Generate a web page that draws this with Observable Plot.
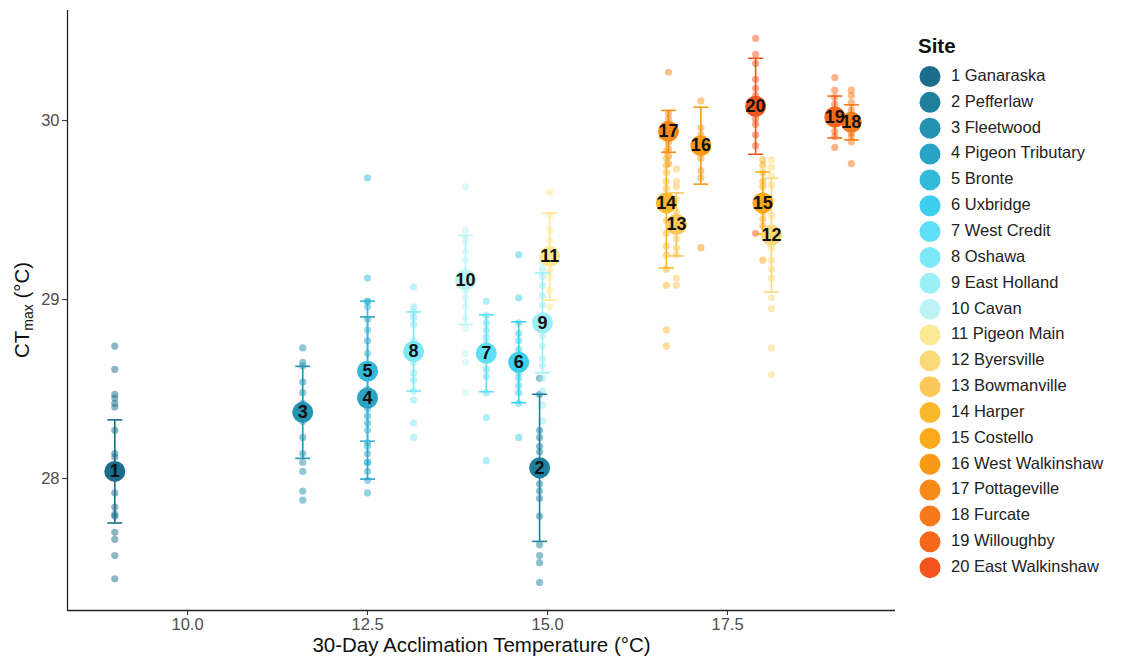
<!DOCTYPE html>
<html><head><meta charset="utf-8">
<script src="https://cdn.jsdelivr.net/npm/d3@7"></script>
<script src="https://cdn.jsdelivr.net/npm/@observablehq/plot@0.6"></script>
<style>
html,body{margin:0;padding:0;background:#fff;}
#chart{width:1121px;height:661px;overflow:hidden;}
</style></head><body><div id="chart"></div>
<script>
const siteNames = ["Ganaraska","Pefferlaw","Fleetwood","Pigeon Tributary","Bronte","Uxbridge","West Credit","Oshawa","East Holland","Cavan","Pigeon Main","Byersville","Bowmanville","Harper","Costello","West Walkinshaw","Pottageville","Furcate","Willoughby","East Walkinshaw"];
const siteTemp = [8.99,14.89,11.60,12.50,12.50,14.60,14.15,13.14,14.93,13.86,15.03,18.11,16.79,16.65,17.99,17.13,16.68,19.22,18.99,17.89];
const siteMean = [28.04,28.06,28.37,28.45,28.60,28.65,28.70,28.71,28.87,29.11,29.24,29.36,29.42,29.54,29.54,29.86,29.94,29.99,30.02,30.08];
const siteSD = [0.288,0.411,0.257,0.453,0.391,0.226,0.215,0.221,0.279,0.249,0.243,0.318,0.176,0.363,0.173,0.215,0.117,0.098,0.117,0.268];
const siteColors = ["#1b6d8b","#1e809d","#2492b1","#2aa4c5","#33b9da","#3dcfee","#5fdff5","#7de8f7","#9ceef7","#bdf3f5","#fde894","#fcd978","#fbc95a","#fab92a","#f9a91a","#f89a15","#f78a17","#f6791a","#f5681c","#f3531d"];
const ctmaxBySite = [
  [28.74,28.61,28.47,28.45,28.42,28.40,28.27,28.14,28.12,28.06,28.01,27.92,27.84,27.80,27.79,27.70,27.66,27.57,27.44],
  [28.56,28.47,28.27,28.23,28.18,28.15,28.07,28.04,28.02,27.97,27.93,27.89,27.79,27.63,27.57,27.53,27.42],
  [28.73,28.65,28.63,28.54,28.48,28.42,28.37,28.32,28.23,28.14,28.09,28.04,27.93,27.88],
  [28.99,28.89,28.77,28.59,28.48,28.41,28.35,28.31,28.20,28.14,28.09,28.04,27.99,27.92],
  [29.68,29.12,28.99,28.96,28.83,28.70,28.59,28.50,28.39,28.27,28.18,28.09],
  [29.25,29.01,28.87,28.81,28.77,28.72,28.64,28.59,28.56,28.52,28.48,28.42,28.23],
  [28.99,28.91,28.87,28.83,28.79,28.75,28.70,28.66,28.61,28.57,28.48,28.34,28.10],
  [29.07,28.96,28.93,28.90,28.86,28.77,28.71,28.65,28.59,28.55,28.49,28.44,28.31,28.23],
  [29.21,29.17,29.13,29.08,29.02,28.97,28.87,28.80,28.74,28.67,28.63,28.56,28.49,28.41,28.32],
  [29.63,29.39,29.35,29.32,29.27,29.22,29.16,29.05,29.01,28.96,28.90,28.84,28.70,28.65,28.48],
  [29.60,29.47,29.39,29.33,29.28,29.21,29.16,29.12,29.05,28.96],
  [29.78,29.74,29.69,29.64,29.55,29.47,29.40,29.33,29.29,29.22,29.17,29.12,29.01,28.95,28.73,28.58],
  [29.73,29.66,29.63,29.56,29.49,29.41,29.34,29.29,29.25,29.12,29.08],
  [29.83,29.79,29.75,29.71,29.66,29.62,29.58,29.50,29.44,29.37,29.30,29.25,29.17,29.08,28.83,28.74],
  [29.78,29.75,29.71,29.66,29.63,29.58,29.53,29.49,29.45,29.41,29.22],
  [30.11,29.96,29.92,29.89,29.83,29.79,29.72,29.68,29.29],
  [30.27,30.04,30.01,29.98,29.93,29.91,29.88,29.84,29.80,29.76],
  [30.17,30.14,30.10,30.06,30.02,29.99,29.96,29.93,29.91,29.88,29.76],
  [30.24,30.17,30.13,30.09,30.06,30.02,29.98,29.94,29.91,29.85],
  [30.46,30.37,30.32,30.23,30.18,30.14,30.11,30.04,30.01,29.98,29.92,29.86,29.37]
];
const xTicks = [10, 12.5, 15, 17.5];
const yTicks = [28, 29, 30];
const xDomain = [8.333, 19.833];
const yDomain = [27.263, 30.615];

const sites = siteNames.map((name, i) => ({id: i + 1, name, temp: siteTemp[i], mean: siteMean[i], sd: siteSD[i]}));
const obs = ctmaxBySite.flatMap((vals, i) => vals.map(v => ({id: i + 1, temp: siteTemp[i], ctmax: v})));
const capHalf = 0.104;
const font = "'Liberation Sans', Arial, Helvetica, sans-serif";

const plot = Plot.plot({
  width: 1121, height: 661,
  marginLeft: 67, marginRight: 226, marginTop: 10, marginBottom: 51,
  style: {fontFamily: font, background: "#fff", overflow: "visible"},
  x: {domain: xDomain},
  y: {domain: yDomain},
  color: {type: "ordinal", domain: sites.map(d => d.id), range: siteColors},
  marks: [
    Plot.dot(obs, {x: "temp", y: "ctmax", r: 3.6, fill: "id", fillOpacity: 0.5, stroke: null}),
    Plot.ruleX(sites, {x: "temp", y1: d => d.mean - d.sd, y2: d => d.mean + d.sd, stroke: "id", strokeWidth: 1.6}),
    Plot.link(sites, {x1: d => d.temp - capHalf, x2: d => d.temp + capHalf, y1: d => d.mean + d.sd, y2: d => d.mean + d.sd, stroke: "id", strokeWidth: 1.6}),
    Plot.link(sites, {x1: d => d.temp - capHalf, x2: d => d.temp + capHalf, y1: d => d.mean - d.sd, y2: d => d.mean - d.sd, stroke: "id", strokeWidth: 1.6}),
    Plot.dot(sites, {x: "temp", y: "mean", r: 10.5, fill: "id", stroke: null}),
    Plot.text(sites, {x: "temp", y: "mean", text: d => String(d.id), fontSize: 18, fontWeight: "bold", fill: "#111"}),
    Plot.axisX({ticks: xTicks, tickFormat: d3.format(".1f"), tickSize: 5, tickPadding: 3, fontSize: 16.5, label: null, fill: "#4d4d4d", stroke: "#333"}),
    Plot.axisY({ticks: yTicks, tickFormat: d3.format("d"), tickSize: 5, tickPadding: 3, fontSize: 16.5, label: null, fill: "#4d4d4d", stroke: "#333"}),
    Plot.ruleX([xDomain[0]], {stroke: "#222", strokeWidth: 1.3}),
    Plot.ruleY([yDomain[0]], {stroke: "#222", strokeWidth: 1.3}),
    Plot.text(["30-Day Acclimation Temperature (°C)"], {frameAnchor: "bottom", dy: 35, lineAnchor: "middle", fontSize: 20.5, fill: "#111"})
  ]
});

const svg = d3.select(plot);
// y axis title with subscript
const yt = svg.append("text")
  .attr("transform", `translate(24,${(10 + 610) / 2}) rotate(-90)`)
  .attr("text-anchor", "middle")
  .attr("dominant-baseline", "middle")
  .attr("font-family", font)
  .attr("font-size", 20.5)
  .attr("fill", "#111");
yt.append("tspan").text("CT");
yt.append("tspan").attr("font-size", 14).attr("dy", 5).text("max");
yt.append("tspan").attr("dy", -5).text(" (°C)");

// legend
const lg = svg.append("g").attr("font-family", font).attr("text-anchor", "start");
lg.append("text").attr("x", 918).attr("y", 48).attr("dominant-baseline", "middle")
  .attr("text-anchor", "start")
  .attr("font-size", 20.5).attr("font-weight", "bold").attr("fill", "#111").text("Site");
sites.forEach((d, i) => {
  const cy = 76.5 + 25.85 * i;
  lg.append("circle").attr("cx", 930).attr("cy", cy).attr("r", 10.5).attr("fill", siteColors[i]);
  lg.append("text").attr("x", 951).attr("y", cy).attr("dominant-baseline", "middle")
    .attr("text-anchor", "start")
    .attr("font-size", 16.5).attr("fill", "#222").text(`${d.id} ${d.name}`);
});

document.getElementById("chart").appendChild(plot);
</script>
</body></html>
